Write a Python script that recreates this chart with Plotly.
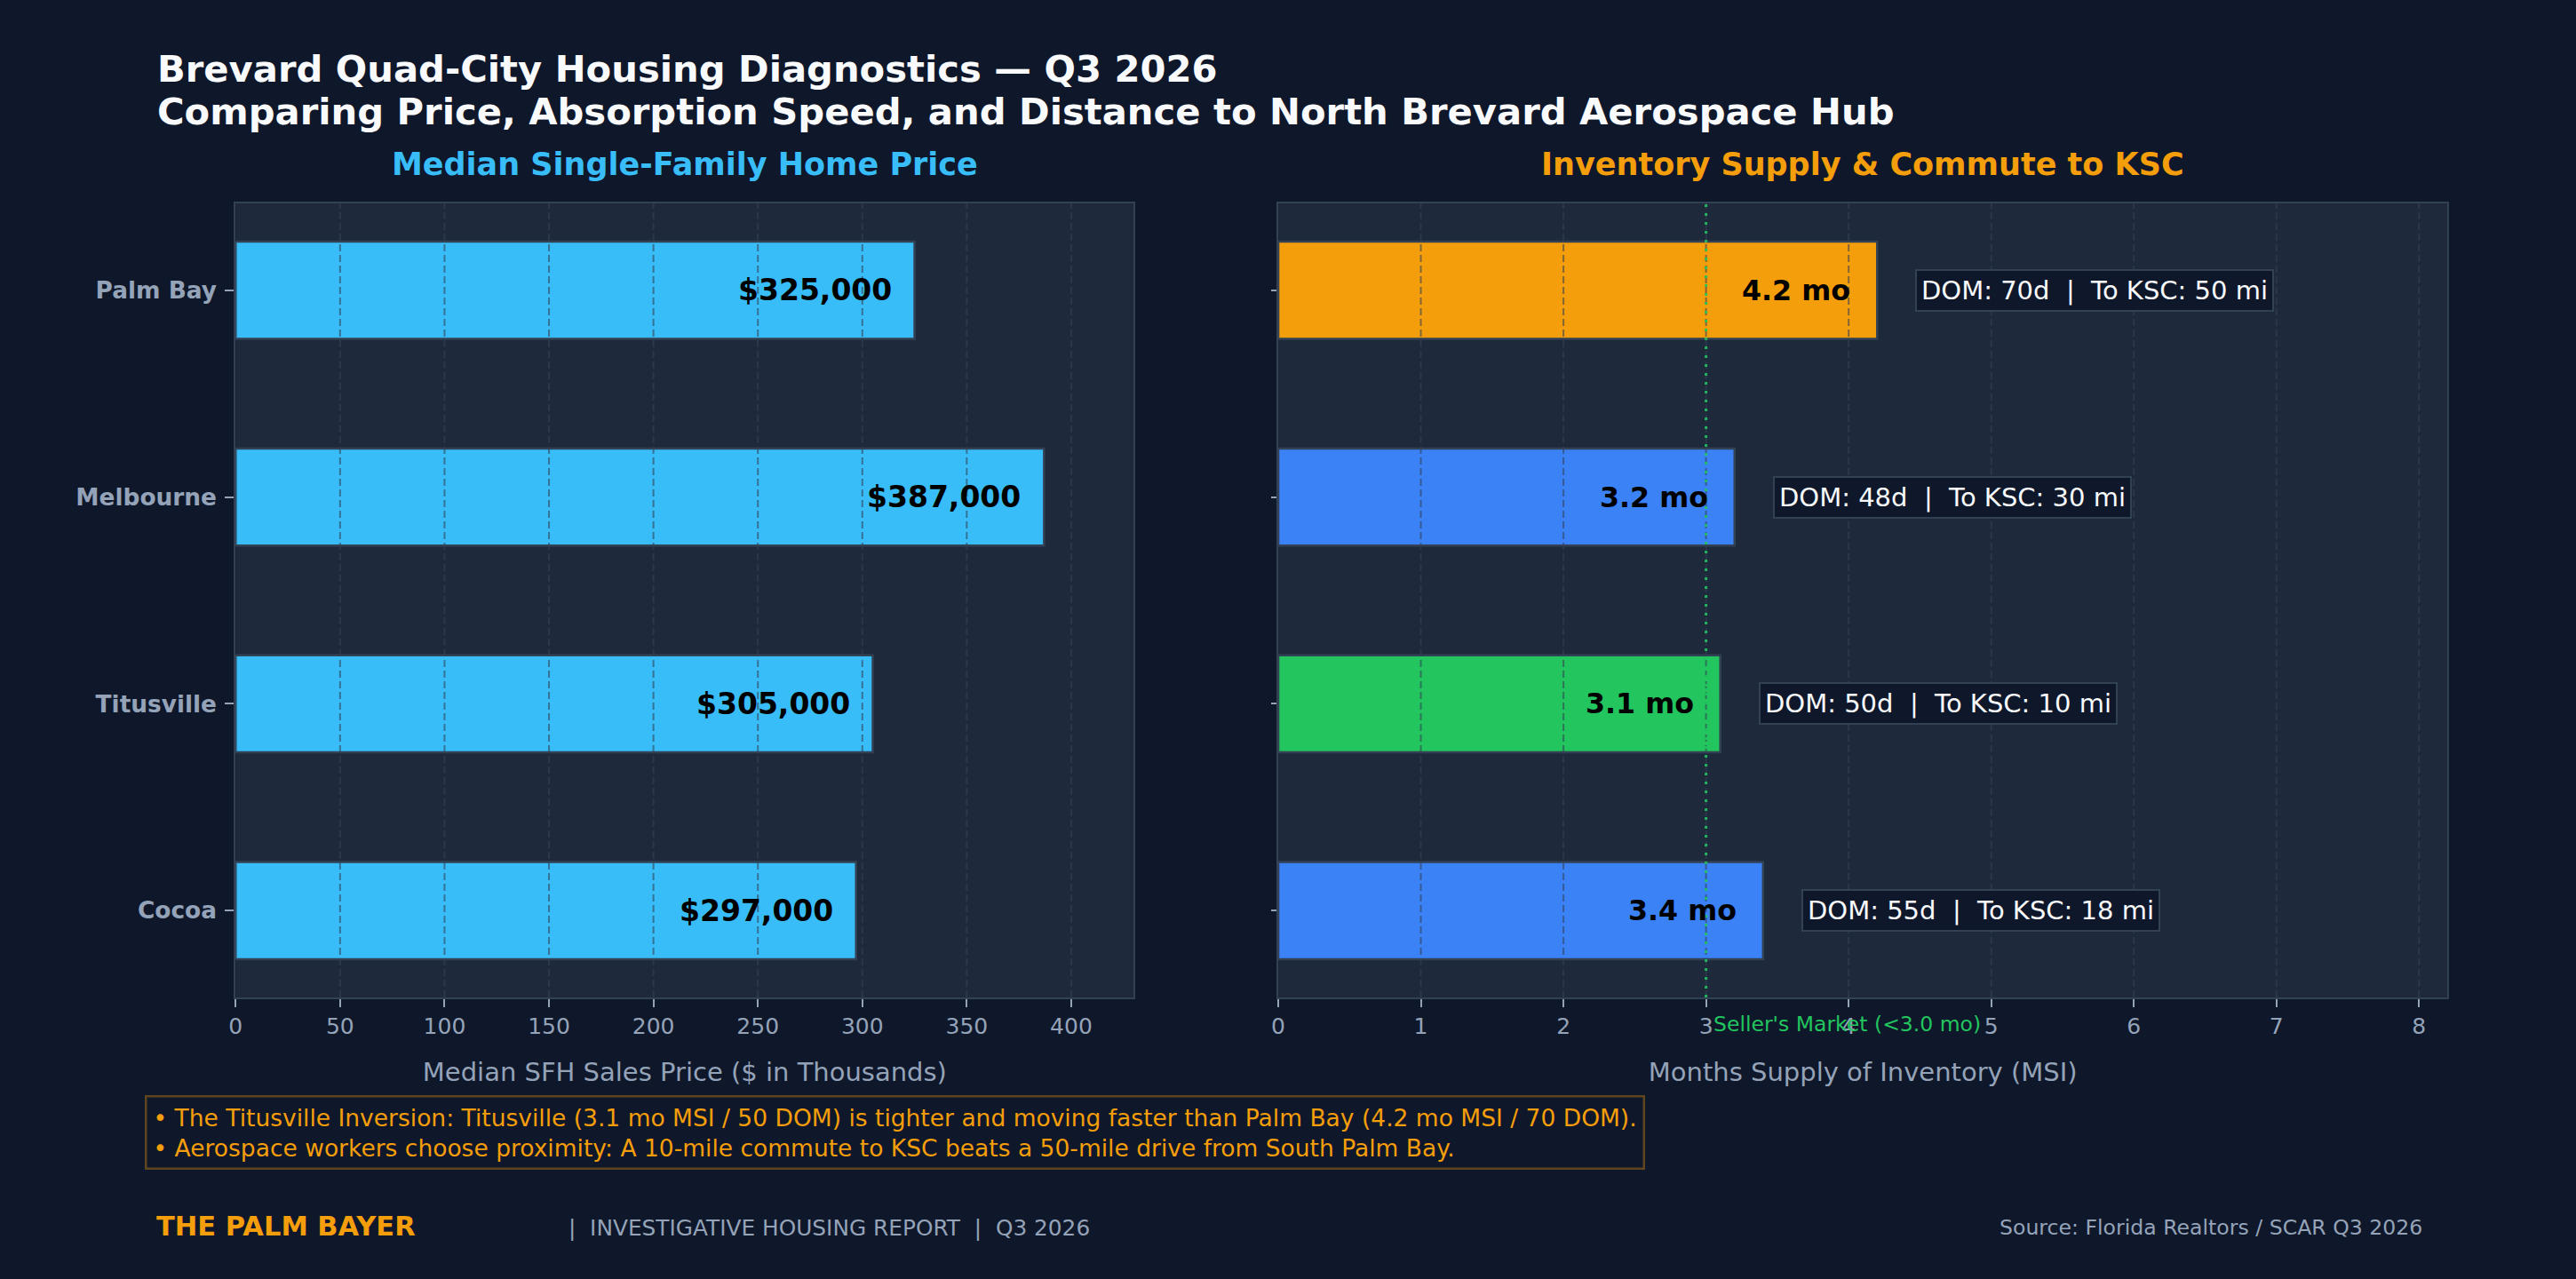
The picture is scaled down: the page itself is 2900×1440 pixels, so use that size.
import plotly.graph_objects as go
from plotly.subplots import make_subplots

# Brevard quad-city housing snapshot, Q3 2026
cities = ["Palm Bay", "Melbourne", "Titusville", "Cocoa"]
median_price_k = [325, 387, 305, 297]
msi_months = [4.2, 3.2, 3.1, 3.4]
days_on_market = [70, 48, 50, 55]
miles_to_ksc = [50, 30, 10, 18]
msi_colors = ["#f59e0b", "#3b82f6", "#22c55e", "#3b82f6"]
price_ticks = [0, 50, 100, 150, 200, 250, 300, 350, 400]
msi_ticks = [0, 1, 2, 3, 4, 5, 6, 7, 8]
sellers_market = 3.0

insights = [
    "• The Titusville Inversion: Titusville (3.1 mo MSI / 50 DOM) is tighter and moving faster than Palm Bay (4.2 mo MSI / 70 DOM).",
    "• Aerospace workers choose proximity: A 10-mile commute to KSC beats a 50-mile drive from South Palm Bay.",
]

W, H = 2900, 1440
BG = "#0f172a"
PANEL = "#1e293b"
EDGE = "#334155"
MUTED = "#94a3b8"
FONT = "DejaVu Sans"


def px_x(px):
    return px / W


def px_y(px):
    return 1 - px / H


fig = make_subplots(rows=1, cols=2)

fig.add_trace(go.Bar(
    y=cities, x=median_price_k, orientation="h", width=0.47,
    marker=dict(color="#38bdf8", line=dict(color=EDGE, width=2.5)),
    hoverinfo="skip",
), row=1, col=1)

fig.add_trace(go.Bar(
    y=cities, x=msi_months, orientation="h", width=0.47,
    marker=dict(color=msi_colors, line=dict(color=EDGE, width=2.5)),
    hoverinfo="skip",
), row=1, col=2)

# dashed grid drawn over the bars
grid = dict(color="rgba(51,65,85,0.6)", width=2, dash="8px,4px")
for t in price_ticks[1:]:
    fig.add_vline(x=t, line=grid, layer="above", row=1, col=1)
for t in msi_ticks[1:]:
    fig.add_vline(x=t, line=grid, layer="above", row=1, col=2)

fig.add_vline(x=sellers_market, line=dict(color="#22c55e", width=3, dash="3px,7px"),
              opacity=0.9, layer="above", row=1, col=2)

xcommon = dict(ticks="outside", ticklen=9, tickwidth=1.5, tickcolor=MUTED,
               tickfont=dict(size=25, color=MUTED, family=FONT),
               showgrid=False, zeroline=False, showline=True, linecolor=EDGE,
               linewidth=2, mirror=True)
ycommon = dict(ticks="outside", ticklen=10, tickwidth=1.5, tickcolor=MUTED,
               showgrid=False, zeroline=False, showline=True, linecolor=EDGE,
               linewidth=2, mirror=True, categoryorder="array", categoryarray=cities,
               range=[3.42, -0.42], domain=[px_y(1123), px_y(229)])

fig.update_layout(
    width=W, height=H,
    paper_bgcolor=BG, plot_bgcolor=PANEL,
    margin=dict(l=0, r=0, t=0, b=0),
    showlegend=False,
    font=dict(family=FONT, color=MUTED),
    xaxis=dict(xcommon, domain=[px_x(258), px_x(1272)], range=[0, 430], tickvals=price_ticks,
               title=dict(text="Median SFH Sales Price ($ in Thousands)",
                          font=dict(size=29, color=MUTED), standoff=28)),
    xaxis2=dict(xcommon, domain=[px_x(1435), px_x(2755)], range=[0, 8.2], tickvals=msi_ticks,
                title=dict(text="Months Supply of Inventory (MSI)",
                           font=dict(size=29, color=MUTED), standoff=28)),
    yaxis=dict(ycommon, ticklabelstandoff=4,
               tickfont=dict(size=26.4, color=MUTED, family=FONT, weight="bold")),
    yaxis2=dict(ycommon, showticklabels=False, ticklen=6),
)

# value labels inside bar ends
for city, v in zip(cities, median_price_k):
    fig.add_annotation(x=v, y=city, xref="x", yref="y", text=f"${v * 1000:,.0f}",
                       xanchor="right", yanchor="middle", xshift=-24, showarrow=False,
                       font=dict(size=33, color="#000000", weight="bold"))
for city, v, dom, mi in zip(cities, msi_months, days_on_market, miles_to_ksc):
    fig.add_annotation(x=v, y=city, xref="x2", yref="y2", text=f"{v:.1f} mo",
                       xanchor="right", yanchor="middle", xshift=-28, showarrow=False,
                       font=dict(size=31.7, color="#000000", weight="bold"))
    fig.add_annotation(x=v, y=city, xref="x2", yref="y2",
                       text=f"DOM: {dom}d  |  To KSC: {mi} mi",
                       xanchor="left", yanchor="middle", xshift=43, showarrow=False,
                       bgcolor=BG, bordercolor=EDGE, borderwidth=2, borderpad=5,
                       font=dict(size=29, color="#f8fafc"))

fig.add_annotation(x=sellers_market, xref="x2", y=0, yref="y2 domain",
                   text="Seller's Market (<3.0 mo)", xanchor="left", xshift=6,
                   yanchor="middle", yshift=-30, showarrow=False,
                   font=dict(size=23.5, color="#22c55e"))

# panel titles
fig.add_annotation(x=0.5, xref="x domain", y=px_y(185), yref="paper",
                   xanchor="center", yanchor="middle",
                   text="Median Single-Family Home Price", showarrow=False,
                   font=dict(size=35, color="#38bdf8", weight="bold"))
fig.add_annotation(x=0.5, xref="x2 domain", y=px_y(185), yref="paper",
                   xanchor="center", yanchor="middle",
                   text="Inventory Supply & Commute to KSC", showarrow=False,
                   font=dict(size=35, color="#f59e0b", weight="bold"))

# headline
fig.add_annotation(x=px_x(167), xref="paper", y=px_y(77), yref="paper",
                   xanchor="left", yanchor="middle",
                   text="Brevard Quad-City Housing Diagnostics — Q3 2026", showarrow=False,
                   font=dict(size=41.7, color="#f8fafc", weight="bold"))
fig.add_annotation(x=px_x(167), xref="paper", y=px_y(125), yref="paper",
                   xanchor="left", yanchor="middle",
                   text="Comparing Price, Absorption Speed, and Distance to North Brevard Aerospace Hub",
                   showarrow=False, font=dict(size=41.7, color="#f8fafc", weight="bold"))

# insight box
fig.add_annotation(x=px_x(155), xref="paper", y=px_y(1233), yref="paper",
                   xanchor="left", yanchor="top", align="left",
                   text="<br>".join(insights), showarrow=False,
                   bgcolor=BG, bordercolor="rgba(245,158,11,0.35)", borderwidth=2.5,
                   borderpad=7, font=dict(size=26.5, color="#f59e0b"))

# footer
fig.add_annotation(x=px_x(166), xref="paper", y=px_y(1380), yref="paper",
                   xanchor="left", yanchor="middle",
                   text="THE PALM BAYER", showarrow=False,
                   font=dict(size=30.5, color="#f59e0b", weight="bold"))
fig.add_annotation(x=px_x(632), xref="paper", y=px_y(1382), yref="paper",
                   xanchor="left", yanchor="middle",
                   text="|  INVESTIGATIVE HOUSING REPORT  |  Q3 2026", showarrow=False,
                   font=dict(size=24.8, color=MUTED))
fig.add_annotation(x=px_x(2729), xref="paper", y=px_y(1382), yref="paper",
                   xanchor="right", yanchor="middle",
                   text="Source: Florida Realtors / SCAR Q3 2026", showarrow=False,
                   font=dict(size=23.6, color=MUTED))

fig.write_html("out.html", config={"displayModeBar": False},
               post_script="document.body.style.margin='0';"
               "document.body.style.background='#0f172a';")
